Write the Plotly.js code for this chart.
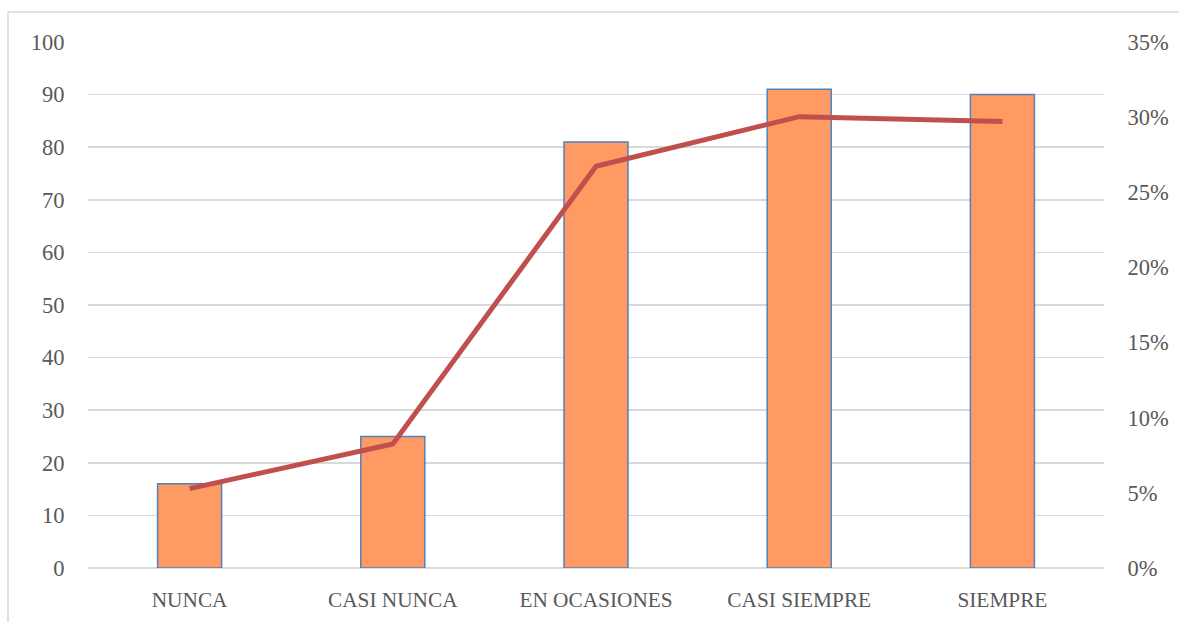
<!DOCTYPE html>
<html>
<head>
<meta charset="utf-8">
<script src="https://cdn.plot.ly/plotly-3.0.1.min.js"></script>
<style>
  html, body { margin: 0; padding: 0; background: #fff; }
  #chart { width: 1179px; height: 622px; }
</style>
</head>
<body>
<div id="chart"></div>
<script>
// Response categories and counts
const categories = ["NUNCA", "CASI NUNCA", "EN OCASIONES", "CASI SIEMPRE", "SIEMPRE"];
const counts = [16, 25, 81, 91, 90];
// Share of each response over the total
const total = counts.reduce((a, b) => a + b, 0);
const shares = counts.map(v => v / total);

const yTicks = [0, 10, 20, 30, 40, 50, 60, 70, 80, 90, 100];
const y2Ticks = [0, 0.05, 0.10, 0.15, 0.20, 0.25, 0.30, 0.35];
const y2Labels = ["0%", "5%", "10%", "15%", "20%", "25%", "30%", "35%"];

const family = "Liberation Serif, DejaVu Serif, serif";
const catFont = { family: family, size: 21.3, color: "#595959" };
const numFont = { family: family, size: 22.5, color: "#595959" };

const traces = [
  {
    type: "bar",
    x: categories,
    y: counts,
    marker: { color: "#FF9A62", line: { color: "#4F81BD", width: 1.5 } },
    hoverinfo: "x+y"
  },
  {
    type: "scatter",
    mode: "lines",
    x: categories,
    y: shares,
    yaxis: "y2",
    line: { color: "#C0504D", width: 5 },
    hoverinfo: "x+y"
  }
];

const layout = {
  width: 1179,
  height: 622,
  margin: { l: 88, r: 75, t: 42, b: 54 },
  paper_bgcolor: "#fff",
  plot_bgcolor: "#fff",
  showlegend: false,
  bargap: 0.685,
  font: numFont,
  xaxis: {
    showgrid: false,
    showline: false,
    zeroline: false,
    ticks: "outside",
    ticklen: 12,
    tickcolor: "rgba(0,0,0,0)",
    tickfont: catFont,
    fixedrange: true
  },
  yaxis: {
    range: [0, 100],
    tickvals: yTicks,
    showgrid: true,
    gridcolor: "#D9D9D9",
    gridwidth: 1.6,
    zeroline: true,
    zerolinecolor: "#D9D9D9",
    zerolinewidth: 1.6,
    showline: false,
    ticks: "outside",
    ticklen: 18,
    tickcolor: "rgba(0,0,0,0)",
    tickfont: numFont,
    fixedrange: true
  },
  yaxis2: {
    overlaying: "y",
    side: "right",
    range: [0, 0.35],
    tickvals: y2Ticks,
    ticktext: y2Labels,
    showgrid: false,
    zeroline: false,
    showline: false,
    ticks: "outside",
    ticklen: 18,
    tickcolor: "rgba(0,0,0,0)",
    tickfont: numFont,
    fixedrange: true
  },
  shapes: [
    {
      type: "rect",
      xref: "paper", yref: "paper",
      x0: -80 / 1016, x1: 1.2,
      y0: -0.3, y1: (568 - 12) / 526,
      line: { color: "#D9D9D9", width: 1.5 },
      fillcolor: "rgba(0,0,0,0)",
      layer: "below"
    }
  ]
};

Plotly.newPlot("chart", traces, layout, { displayModeBar: false, staticPlot: true });
</script>
</body>
</html>
